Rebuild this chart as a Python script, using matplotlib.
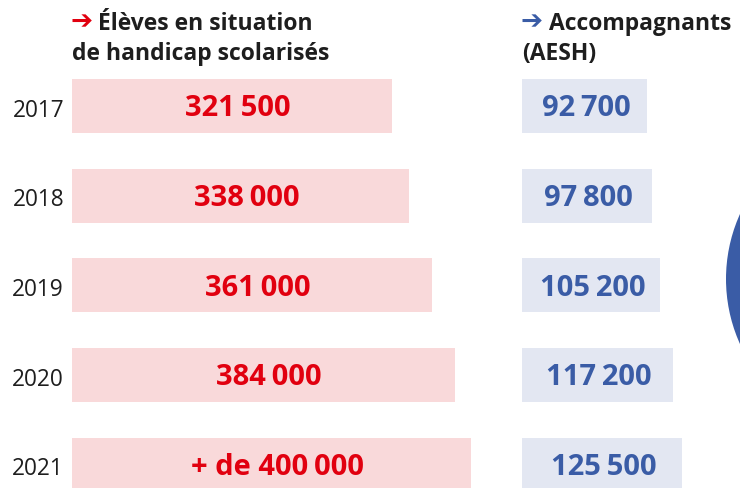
import matplotlib
matplotlib.use('Agg')
import matplotlib.pyplot as plt
from matplotlib.patches import Circle

years = ['2017', '2018', '2019', '2020', '2021']
eleves = [321.5, 338.0, 361.0, 384.0, 400.0]  # milliers
eleves_labels = ['321\u202f500', '338\u202f000', '361\u202f000', '384\u202f000', '+ de 400\u202f000']
aesh = [92.7, 97.8, 105.2, 117.2, 125.5]  # milliers
aesh_labels = ['92\u202f700', '97\u202f800', '105\u202f200', '117\u202f200', '125\u202f500']

RED = '#e1000f'
PINK = '#f9d9da'
BLUE = '#3a5ca6'
LIGHTBLUE = '#e3e7f2'
DARK = '#1e1e1e'
FONT = ['Open Sans', 'DejaVu Sans']

W, H = 740, 489
fig = plt.figure(figsize=(W / 100, H / 100), dpi=100)

def px(x, y):
    return x / W, 1 - y / H

# background axes in pixel units for the decorative circle
bg = fig.add_axes([0, 0, 1, 1])
bg.set_xlim(0, W)
bg.set_ylim(H, 0)
bg.axis('off')
bg.add_patch(Circle((884, 280), 158, color=BLUE, lw=0))

ylim = (4.259, -1.193)
bar_h = 0.602
pos = list(range(len(years)))

# left panel: élèves
axl = fig.add_axes([72 / W, 0, 430 / W, 1])
axl.barh(pos, eleves, height=bar_h, color=PINK, lw=0)
axl.set_xlim(0, 431.5)
axl.set_ylim(*ylim)
axl.axis('off')
for i, (v, lab) in enumerate(zip(eleves, eleves_labels)):
    axl.text(v / 2 + 6, i + 0.02, lab, ha='center', va='center', color=RED,
             fontsize=21, fontweight='bold', family=FONT)
    axl.text(-8, i + 0.04, years[i], ha='right', va='center',
             color=DARK, fontsize=16.3, family=FONT, clip_on=False)

# right panel: AESH
base = -24.4
scale = 1.067
axr = fig.add_axes([522 / W, 0, 218 / W, 1])
axr.barh(pos, [v - base for v in aesh], left=base, height=bar_h, color=LIGHTBLUE, lw=0)
axr.set_xlim(base, base + 218 / scale)
axr.set_ylim(*ylim)
axr.axis('off')
for i, (v, lab) in enumerate(zip(aesh, aesh_labels)):
    axr.text((base + v) / 2 + 1.5, i + 0.02, lab, ha='center', va='center', color=BLUE,
             fontsize=21, fontweight='bold', family=FONT)

# headers
fig.text(*px(71, 29), '\u2794', color=RED, fontsize=19,
         family='DejaVu Sans', va='baseline')
fig.text(*px(98, 30), 'Élèves en situation', color=DARK, fontsize=16.5,
         fontweight='bold', family=FONT, va='baseline')
fig.text(*px(72, 60), 'de handicap scolarisés', color=DARK, fontsize=16.5,
         fontweight='bold', family=FONT, va='baseline')
fig.text(*px(521, 29), '\u2794', color=BLUE, fontsize=19,
         family='DejaVu Sans', va='baseline')
fig.text(*px(549, 30), 'Accompagnants', color=DARK, fontsize=16.5,
         fontweight='bold', family=FONT, va='baseline')
fig.text(*px(522, 60), '(AESH)', color=DARK, fontsize=16.5,
         fontweight='bold', family=FONT, va='baseline')

fig.savefig('out.png', dpi=100)
